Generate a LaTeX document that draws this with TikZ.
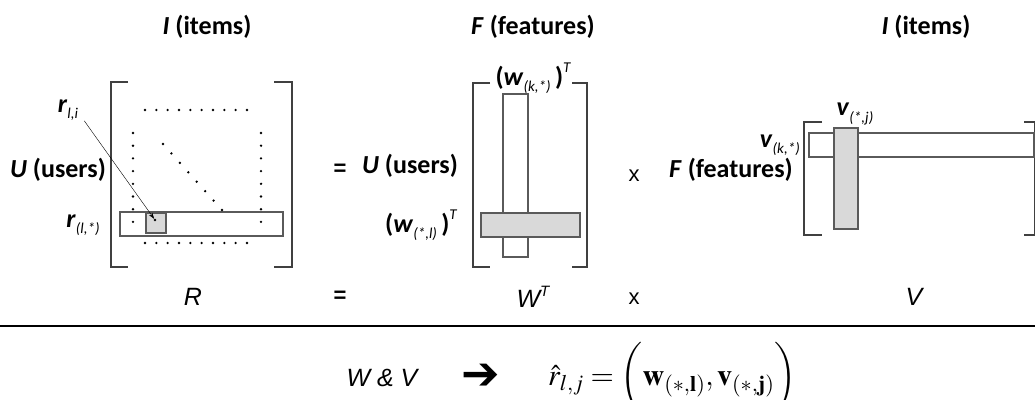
\documentclass[tikz,border=0pt]{standalone}
\usepackage{mathptmx}
\usepackage{fontspec}
\setmainfont{Carlito}
\newfontfamily\arialfont{Liberation Sans}
\newfontfamily\symfont{DejaVu Sans}
\usetikzlibrary{arrows.meta}

\definecolor{bracketgray}{HTML}{404040}
\definecolor{edgegray}{HTML}{5A5A5A}
\definecolor{boxgray}{HTML}{D9D9D9}

% sub- and superscripts for the labels
\newcommand{\sbs}[1]{\raisebox{-0.25em}{\fontsize{15}{15}\selectfont\mdseries\itshape #1}}
\newcommand{\sps}[1]{\raisebox{0.5em}{\fontsize{15}{15}\selectfont\mdseries\itshape #1}}

\begin{document}
\begin{tikzpicture}[x=1pt,y=-1pt,
    lbl/.style={inner sep=0pt, font=\fontsize{26}{30}\selectfont\bfseries},
    plain/.style={inner sep=0pt, font=\fontsize{22}{26}\selectfont\arialfont},
    ital/.style={inner sep=0pt, font=\fontsize{25}{28}\selectfont\arialfont\itshape},
    bracket/.style={draw=bracketgray, line width=1.4pt},
    vecbox/.style={draw=edgegray, fill=white, line width=1.1pt},
    hibox/.style={draw=edgegray, fill=boxgray, line width=1.1pt}]

\useasboundingbox (0,0) rectangle (1035,399);

% Matrix R
\draw[bracket] (128,82) -- (111,82) -- (111,267) -- (128,267);
\draw[bracket] (274,82) -- (292,82) -- (292,267) -- (274,267);
\draw[vecbox] (120,212) rectangle (283,236);
\foreach \i in {0,...,9} {
    \fill (145+\i*11.33,110) circle (1.3pt);
    \fill (145+\i*11.33,243) circle (1.3pt);
}
\foreach \i in {0,...,7} {
    \fill (133,133+\i*12.7) circle (1.3pt);
    \fill (261,133+\i*12.7) circle (1.3pt);
    \fill (163+\i*8.43,144+\i*9.43) circle (1.3pt);
}
\draw[hibox] (146,213) rectangle (166,233);
\node[circle, fill, inner sep=0pt, minimum size=2.6pt] (rdot) at (155,220) {};

\node[lbl] (items1) at (207,27) {\textit{I} (items)};
\node[lbl] (users1) at (58,170) {\textit{U} (users)};
\node[lbl] (rli) at (68,110) {\textit{r}\sbs{l,i}};
\node[lbl] (rrow) at (83,225) {\textit{r}\sbs{(l,*)}};
\draw[-{Stealth[length=6pt,width=4pt]}, thin] ([xshift=6pt]rli.south east) -- (rdot);

% Matrix W^T
\draw[bracket] (490,83) -- (473,83) -- (473,267) -- (490,267);
\draw[bracket] (572,83) -- (587,83) -- (587,267) -- (572,267);
\draw[vecbox] (503,94) rectangle (528,257);
\draw[hibox] (481,213) rectangle (580,237);

\node[plain, font=\fontsize{22}{26}\selectfont\arialfont\bfseries] (eq1) at (340,170) {=};
\node[lbl] (features1) at (533,27) {\textit{F} (features)};
\node[lbl] (users2) at (410,166) {\textit{U} (users)};
\node[lbl] (wk) at (533,78) {(\textit{w}\sbs{(k,*)}\,)\sps{T}};
\node[lbl] (wl) at (421,225) {(\textit{w}\sbs{(*,l)}\,)\sps{T}};
\node[plain] (times1) at (634,176) {x};

% Matrix V
\draw[bracket] (822,122) -- (804,122) -- (804,235) -- (822,235);
\draw[bracket] (1024,122) -- (1035,122) -- (1035,235) -- (1024,235);
\draw[vecbox] (809,133) rectangle (1034,157);
\draw[hibox] (834,128) rectangle (858,229);

\node[lbl] (items2) at (926,27) {\textit{I} (items)};
\node[lbl] (vj) at (855,114) {\textit{v}\sbs{(*,j)}};
\node[lbl, anchor=east] (vk) at (800,145) {\textit{v}\sbs{(k,*)}};
\node[lbl] (features2) at (731,170) {\textit{F} (features)};

% Names of the matrices
\node[ital] (rname) at (193,297) {R};
\node[plain, font=\fontsize{22}{26}\selectfont\arialfont\bfseries] (eq2) at (340,297) {=};
\node[ital] (wname) at (533,297) {W\raisebox{0.45em}{\fontsize{15}{15}\selectfont T}};
\node[plain] (times2) at (634,299) {x};
\node[ital] (vname) at (914,297) {V};

% Rule
\draw[line width=2.5pt] (0,326) -- (1035,326);

% Estimate
\node[ital] (wv) at (382,378) {W \& V};
\node[inner sep=0pt, text height=0.62em, text depth=0pt,
    font=\fontsize{46}{46}\selectfont\symfont\bfseries] (arrow) at (481,386) {➔};
\node[inner sep=0pt, anchor=west, font=\fontsize{30}{34}\selectfont] (rhat) at (548,378)
    {$\hat{r}_{l,j} = \biggl(\mathbf{w}_{(*,\mathbf{l})}, \mathbf{v}_{(*,\mathbf{j})}\biggr)$};

\end{tikzpicture}
\end{document}
